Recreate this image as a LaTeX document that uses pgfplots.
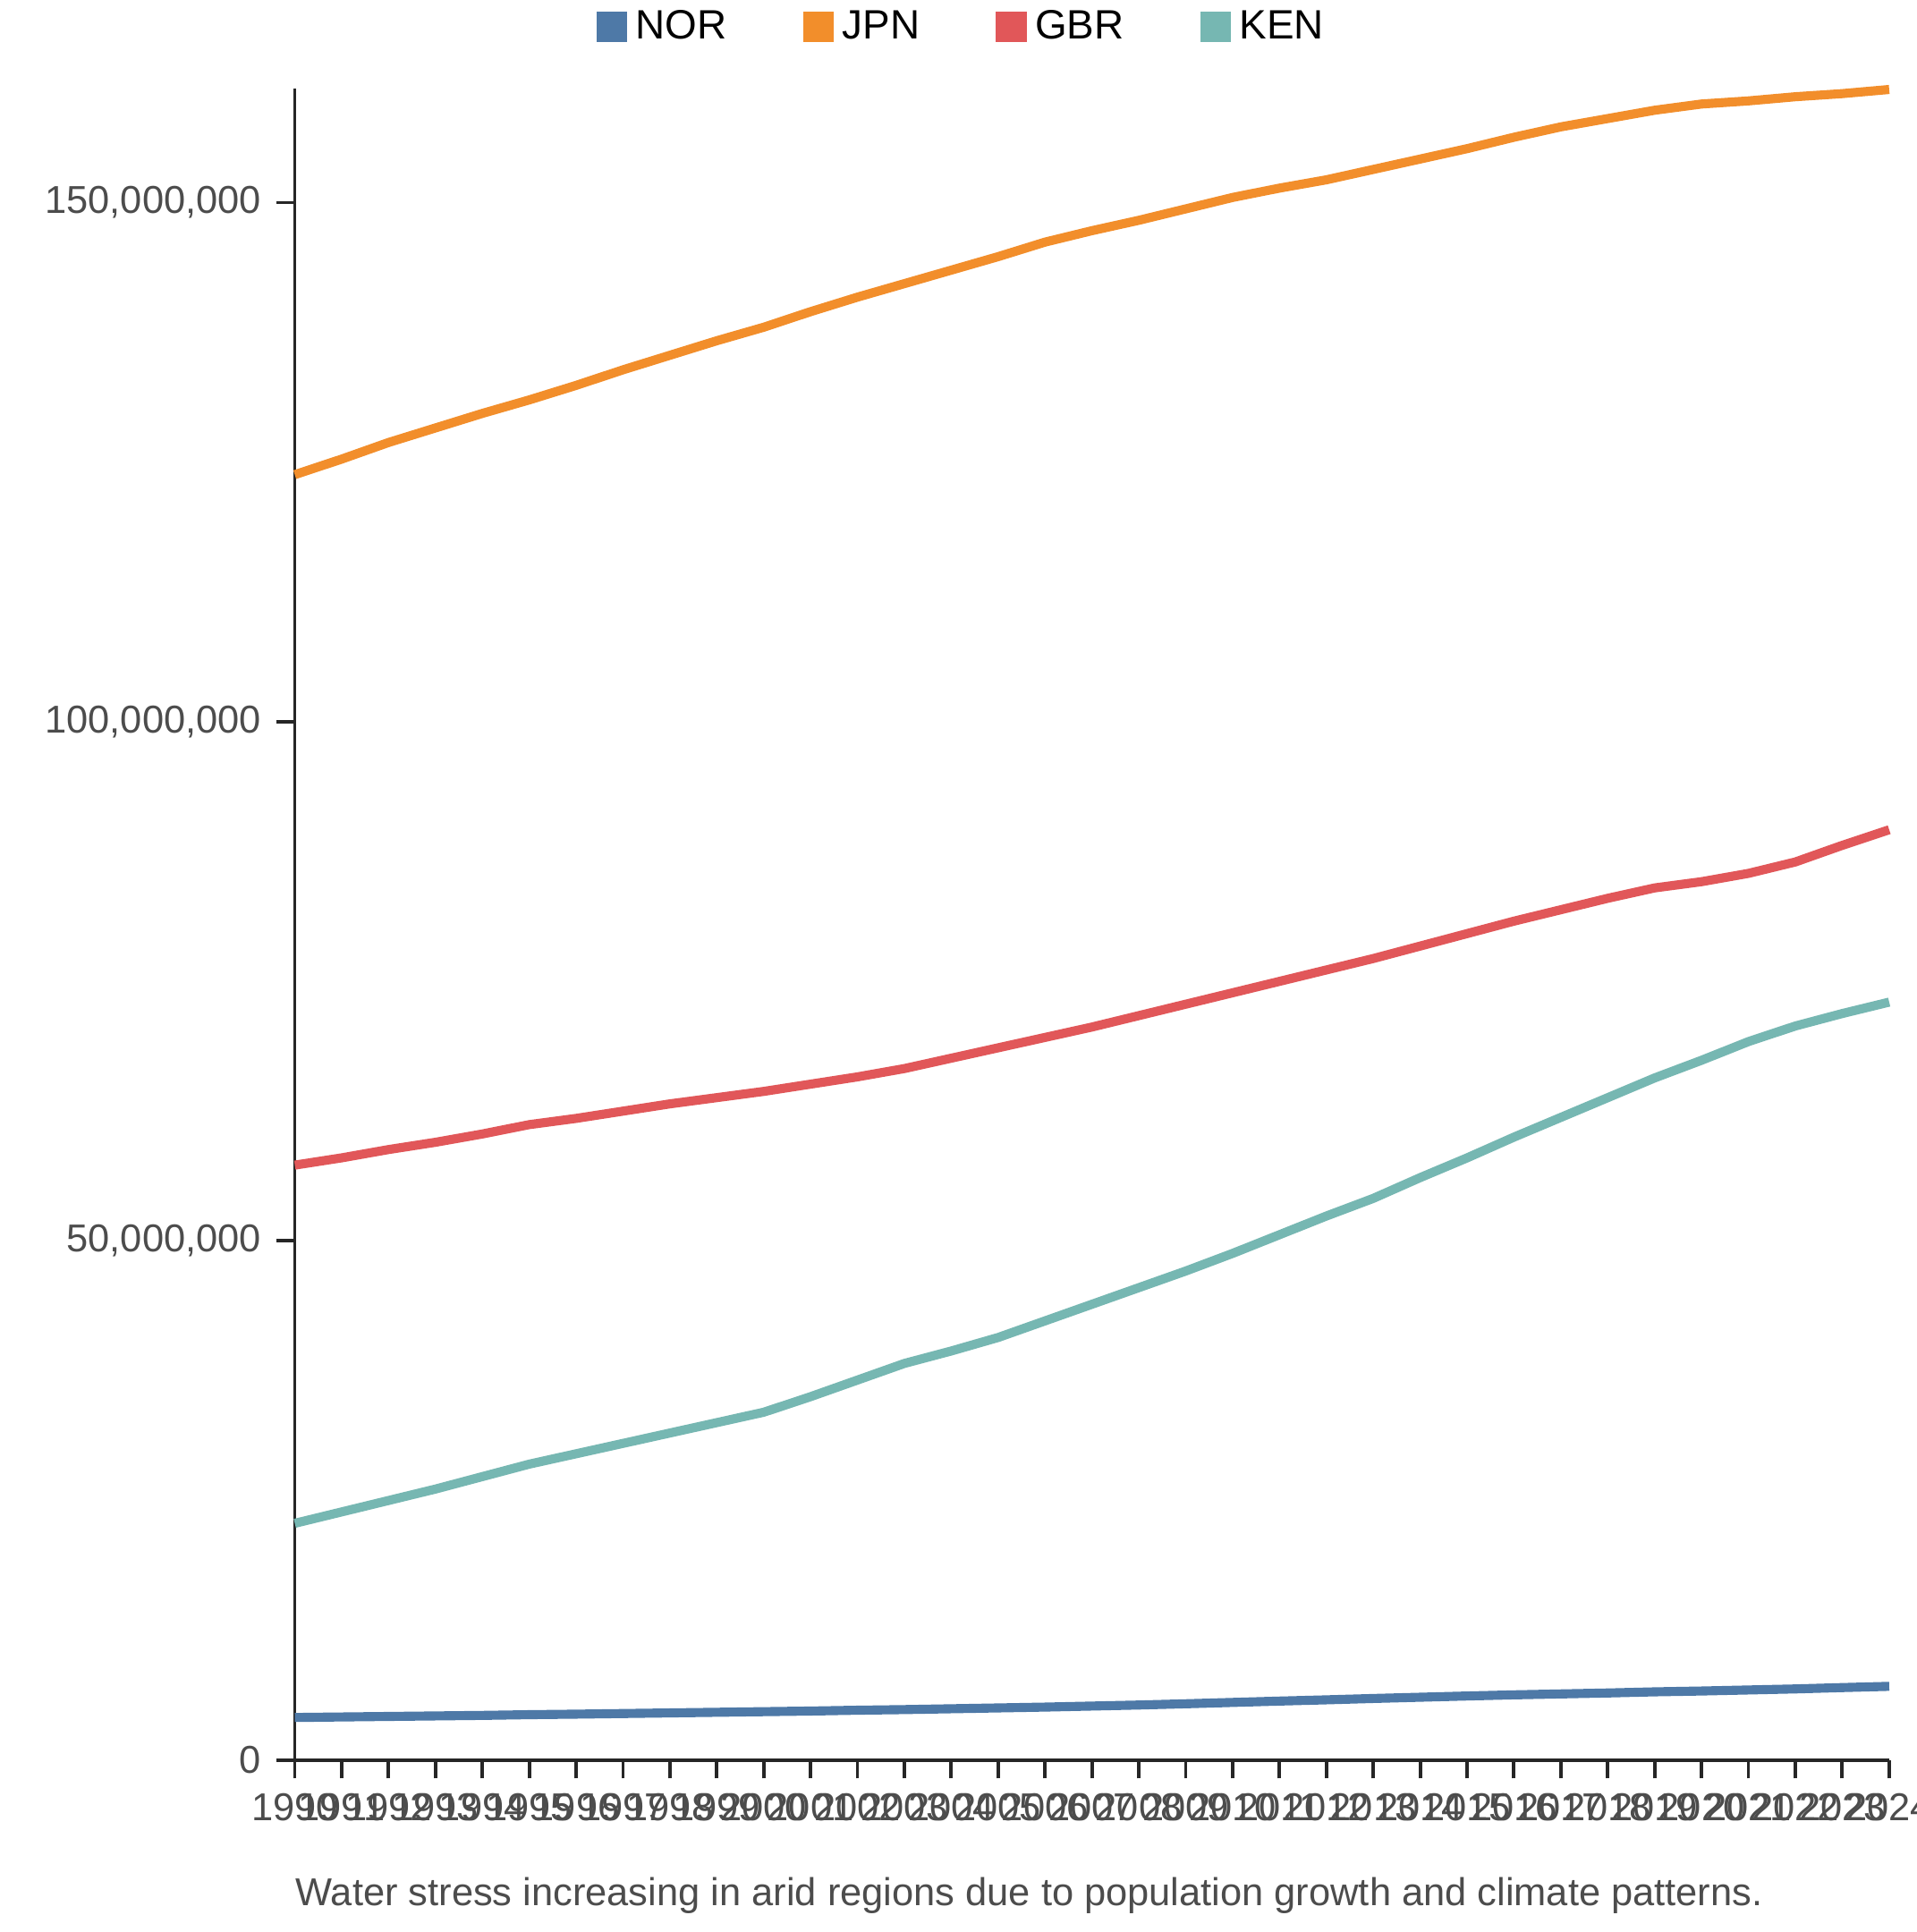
\documentclass[border=0pt]{standalone}
\usepackage{pgfplots}
\pgfplotsset{compat=1.18}
\usepackage{fontspec}
\setmainfont{Liberation Sans}
\definecolor{cnor}{HTML}{4E79A7}
\definecolor{cjpn}{HTML}{F28E2B}
\definecolor{cgbr}{HTML}{E15759}
\definecolor{cken}{HTML}{76B7B2}
\begin{document}
\begin{tikzpicture}
\path[use as bounding box] (-2.40,-1.40) rectangle (13.20,14.33);
\begin{axis}[
  at={(0,0)}, anchor=origin,
  scale only axis, width=12.98cm, height=13.61cm,
  xmin=1990, xmax=2024, ymin=0, ymax=161000000,
  axis x line*=bottom, axis y line*=left,
  axis line style={line width=0.8pt,black!85},
  xtick={1990,...,2024}, ytick={0,50000000,100000000,150000000},
  tick style={black!85,line width=0.8pt}, tick align=outside, major tick length=0.15cm,
  scaled y ticks=false,
  yticklabel style={/pgf/number format/.cd,fixed,1000 sep={,},assume math mode=true},
  xticklabel style={/pgf/number format/.cd,1000 sep={},assume math mode=true},
  ticklabel style={font=\fontsize{9}{11}\selectfont, text=black!70},
  every axis plot/.append style={line width=2.1pt, no marks},
  legend style={at={(0.42,1.015)}, anchor=south, draw=none, legend columns=4,
    font=\fontsize{9.5}{12}\selectfont, /tikz/every even column/.append style={column sep=0.55cm},
    legend cell align=left},
  legend image code/.code={\fill[#1,draw=none] (0.05cm,-0.12cm) rectangle (0.3cm,0.13cm);},
  legend image post style={},
  clip=false,
]
\addplot[cnor] coordinates {(1990,4.1e6)(1991,4.15e6)(1992,4.2e6)(1993,4.25e6)(1994,4.3e6)(1995,4.37e6)(1996,4.42e6)(1997,4.48e6)(1998,4.54e6)(1999,4.6e6)(2000,4.66e6)(2001,4.72e6)(2002,4.8e6)(2003,4.86e6)(2004,4.94e6)(2005,5.02e6)(2006,5.1e6)(2007,5.2e6)(2008,5.3e6)(2009,5.42e6)(2010,5.55e6)(2011,5.68e6)(2012,5.8e6)(2013,5.93e6)(2014,6.05e6)(2015,6.17e6)(2016,6.28e6)(2017,6.37e6)(2018,6.46e6)(2019,6.57e6)(2020,6.65e6)(2021,6.75e6)(2022,6.85e6)(2023,6.98e6)(2024,7.1e6)};
\addlegendentry{NOR}
\addplot[cjpn] coordinates {(1990,123.8e6)(1991,125.3e6)(1992,126.9e6)(1993,128.3e6)(1994,129.7e6)(1995,131.0e6)(1996,132.4e6)(1997,133.9e6)(1998,135.3e6)(1999,136.7e6)(2000,138.0e6)(2001,139.5e6)(2002,140.9e6)(2003,142.2e6)(2004,143.5e6)(2005,144.8e6)(2006,146.2e6)(2007,147.3e6)(2008,148.3e6)(2009,149.4e6)(2010,150.5e6)(2011,151.4e6)(2012,152.2e6)(2013,153.2e6)(2014,154.2e6)(2015,155.2e6)(2016,156.3e6)(2017,157.3e6)(2018,158.1e6)(2019,158.9e6)(2020,159.5e6)(2021,159.8e6)(2022,160.2e6)(2023,160.5e6)(2024,160.9e6)};
\addlegendentry{JPN}
\addplot[cgbr] coordinates {(1990,57.3e6)(1991,58.0e6)(1992,58.8e6)(1993,59.5e6)(1994,60.3e6)(1995,61.2e6)(1996,61.8e6)(1997,62.5e6)(1998,63.2e6)(1999,63.8e6)(2000,64.4e6)(2001,65.1e6)(2002,65.8e6)(2003,66.6e6)(2004,67.6e6)(2005,68.6e6)(2006,69.6e6)(2007,70.6e6)(2008,71.7e6)(2009,72.8e6)(2010,73.9e6)(2011,75.0e6)(2012,76.1e6)(2013,77.2e6)(2014,78.4e6)(2015,79.6e6)(2016,80.8e6)(2017,81.9e6)(2018,83.0e6)(2019,84.0e6)(2020,84.6e6)(2021,85.4e6)(2022,86.5e6)(2023,88.1e6)(2024,89.6e6)};
\addlegendentry{GBR}
\addplot[cken] coordinates {(1990,22.8e6)(1991,23.9e6)(1992,25.0e6)(1993,26.1e6)(1994,27.3e6)(1995,28.5e6)(1996,29.5e6)(1997,30.5e6)(1998,31.5e6)(1999,32.5e6)(2000,33.5e6)(2001,35.0e6)(2002,36.6e6)(2003,38.2e6)(2004,39.4e6)(2005,40.7e6)(2006,42.3e6)(2007,43.9e6)(2008,45.5e6)(2009,47.1e6)(2010,48.8e6)(2011,50.6e6)(2012,52.4e6)(2013,54.1e6)(2014,56.1e6)(2015,58.0e6)(2016,60.0e6)(2017,61.9e6)(2018,63.8e6)(2019,65.7e6)(2020,67.4e6)(2021,69.2e6)(2022,70.7e6)(2023,71.9e6)(2024,73.0e6)};
\addlegendentry{KEN}
\end{axis}
\node[anchor=west, text=black!70, font=\fontsize{9}{11}\selectfont, inner sep=0pt] at (0,-1.1) {Water stress increasing in arid regions due to population growth and climate patterns.};
\end{tikzpicture}
\end{document}
